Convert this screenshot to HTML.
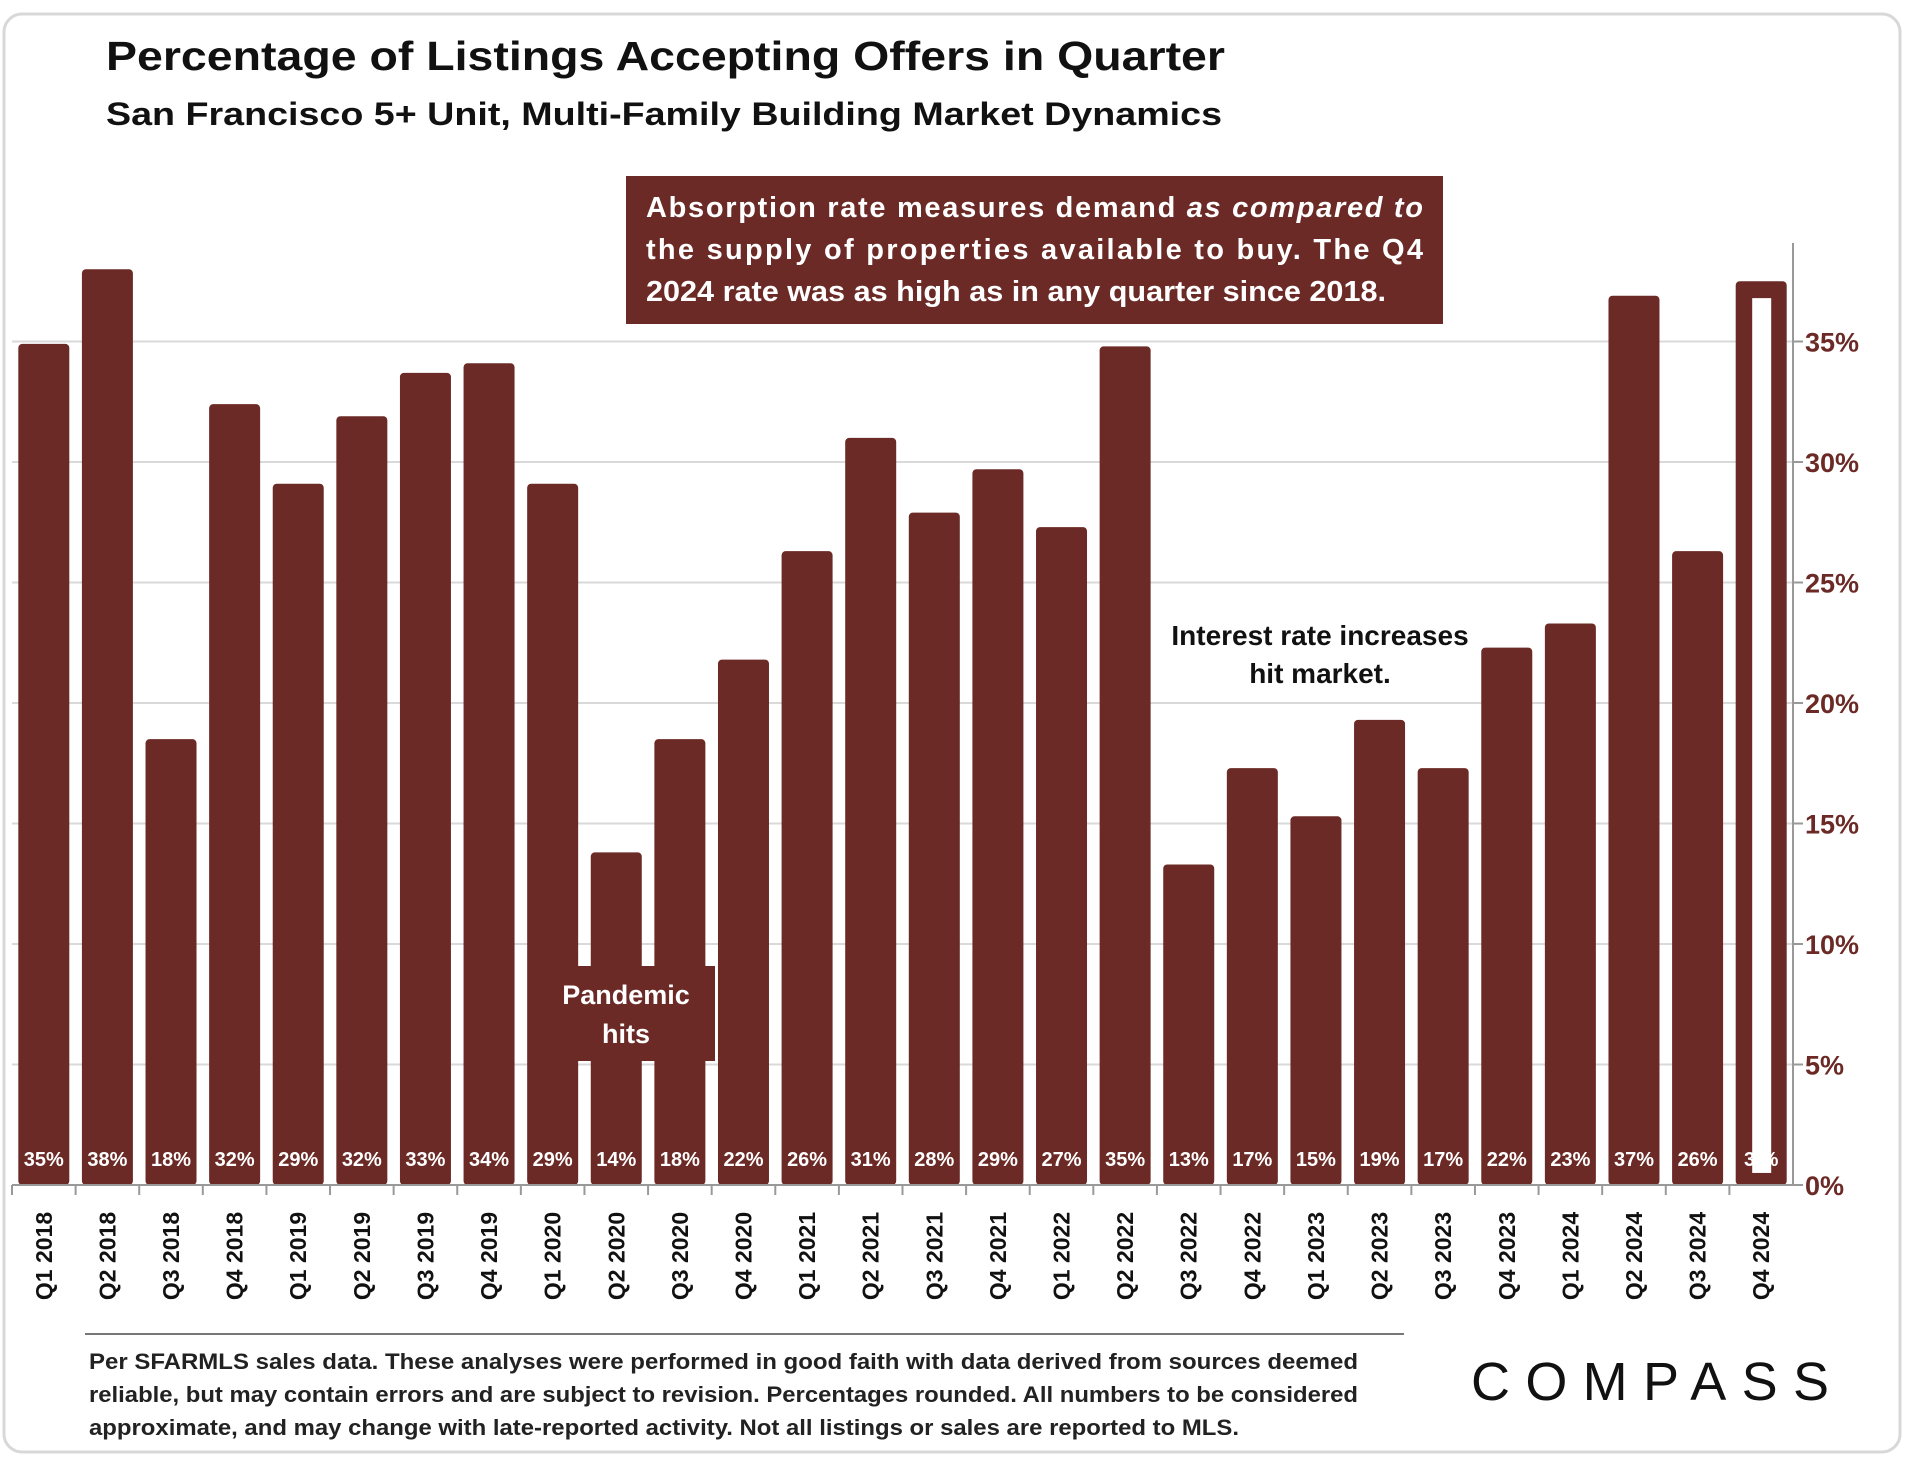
<!DOCTYPE html>
<html><head><meta charset="utf-8"><style>
body{margin:0;background:#fff;}
svg{display:block;font-family:"Liberation Sans",sans-serif;}
</style></head><body>
<svg id="chart" width="1906" height="1458" viewBox="0 0 1906 1458" xmlns="http://www.w3.org/2000/svg">
<rect x="4" y="14" width="1896" height="1438" rx="18" fill="#fff" stroke="#d8d8d8" stroke-width="3"/>
<text x="106" y="70" font-size="41" font-weight="bold" fill="#111" textLength="1119" lengthAdjust="spacingAndGlyphs">Percentage of Listings Accepting Offers in Quarter</text>
<text x="106" y="125" font-size="32" font-weight="bold" fill="#111" textLength="1116" lengthAdjust="spacingAndGlyphs">San Francisco 5+ Unit, Multi-Family Building Market Dynamics</text>
<g id="grid"></g>
<g id="bars"></g>
<g id="axes"></g>
<rect x="626" y="176" width="817" height="148" fill="#6b2a26"/>
<g font-size="29" font-weight="bold" fill="#fff">
<text x="646" y="217" textLength="777" lengthAdjust="spacing">Absorption rate measures demand <tspan font-style="italic">as compared to</tspan></text>
<text x="646" y="259" textLength="777" lengthAdjust="spacing">the supply of properties available to buy. The Q4</text>
<text x="646" y="301" textLength="740" lengthAdjust="spacingAndGlyphs">2024 rate was as high as in any quarter since 2018.</text>
</g>
<g font-size="28" font-weight="bold" fill="#111" text-anchor="middle">
<text x="1320" y="645">Interest rate increases</text>
<text x="1320" y="683">hit market.</text>
</g>
<rect x="545" y="966" width="170" height="95" fill="#6b2a26"/>
<g font-size="27" font-weight="bold" fill="#fff" text-anchor="middle">
<text x="626" y="1004">Pandemic</text>
<text x="626" y="1043">hits</text>
</g>
<line x1="85" y1="1334" x2="1404" y2="1334" stroke="#777" stroke-width="2"/>
<g font-size="22" font-weight="bold" fill="#222">
<text x="89" y="1369" textLength="1269" lengthAdjust="spacingAndGlyphs">Per SFARMLS sales data. These analyses were performed in good faith with data derived from sources deemed</text>
<text x="89" y="1402" textLength="1269" lengthAdjust="spacingAndGlyphs">reliable, but may contain errors and are subject to revision. Percentages rounded. All numbers to be considered</text>
<text x="89" y="1435" textLength="1150" lengthAdjust="spacingAndGlyphs">approximate, and may change with late-reported activity. Not all listings or sales are reported to MLS.</text>
</g>
<text x="1471" y="1400" font-size="54" fill="#111" textLength="358" lengthAdjust="spacing">COMPASS</text>
</svg>
<script>
const categories = ["Q1 2018","Q2 2018","Q3 2018","Q4 2018","Q1 2019","Q2 2019","Q3 2019","Q4 2019","Q1 2020","Q2 2020","Q3 2020","Q4 2020","Q1 2021","Q2 2021","Q3 2021","Q4 2021","Q1 2022","Q2 2022","Q3 2022","Q4 2022","Q1 2023","Q2 2023","Q3 2023","Q4 2023","Q1 2024","Q2 2024","Q3 2024","Q4 2024"];
const values = [34.9,38.0,18.5,32.4,29.1,31.9,33.7,34.1,29.1,13.8,18.5,21.8,26.3,31.0,27.9,29.7,27.3,34.8,13.3,17.3,15.3,19.3,17.3,22.3,23.3,36.9,26.3,37.5];
const valueLabels = ["35%","38%","18%","32%","29%","32%","33%","34%","29%","14%","18%","22%","26%","31%","28%","29%","27%","35%","13%","17%","15%","19%","17%","22%","23%","37%","26%","3 %"];
const yTicks = [0,5,10,15,20,25,30,35];
const yTickLabels = ["0%","5%","10%","15%","20%","25%","30%","35%"];

const NS="http://www.w3.org/2000/svg";
const plotL=12, plotR=1793, y0=1185, pxPer=24.1;
const step=(plotR-plotL)/categories.length;
const bw=51;
function y(v){return y0-v*pxPer;}
function xc(i){return plotL+step*(i+0.5);}
function mk(tag,attrs,parent){const e=document.createElementNS(NS,tag);for(const k in attrs)e.setAttribute(k,attrs[k]);parent.appendChild(e);return e;}
const grid=document.getElementById('grid'),bars=document.getElementById('bars'),axes=document.getElementById('axes');
yTicks.forEach((t,i)=>{
  if(t>0){const g=mk('line',{x1:plotL,x2:plotR,y1:y(t),y2:y(t),stroke:'#d9d9d9','stroke-width':2},grid);
  
  }
  const tk=mk('line',{x1:plotR,x2:plotR+10,y1:y(t),y2:y(t),stroke:'#999','stroke-width':2},axes);
  
  
  const lb=mk('text',{x:plotR+12,y:y(t)+10,'font-size':27,'font-weight':'bold',fill:'#6b2a26'},axes);
  
  
  lb.textContent=yTickLabels[i];
});
const ya=mk('line',{x1:plotR,x2:plotR,y1:243,y2:y0,stroke:'#999','stroke-width':2},axes);


const xa=mk('line',{x1:plotL,x2:plotR,y1:y0,y2:y0,stroke:'#999','stroke-width':2},axes);


categories.forEach((c,i)=>{
  const cx=xc(i),v=values[i];
  const b=mk('rect',{x:cx-bw/2,y:y(v),width:bw,height:v*pxPer,rx:4,fill:'#6b2a26'},bars);
  
  
  if(i===categories.length-1){
    const w=mk('rect',{x:cx-9,y:y(v-0.7),width:19,height:(v-1.2)*pxPer,fill:'#fff'},bars);
    
    
  }
  const l=mk('text',{x:cx,y:1166,'font-size':20,'font-weight':'bold',fill:'#fff','text-anchor':'middle'},bars);
  
  
  l.textContent=valueLabels[i];
  const tk=mk('line',{x1:plotL+step*i,x2:plotL+step*i,y1:y0,y2:y0+10,stroke:'#999','stroke-width':2},axes);
  
  
  const xl=mk('text',{x:0,y:0,'font-size':23,'font-weight':'bold',fill:'#111','text-anchor':'middle',transform:`translate(${cx+8},1256) rotate(-90)`},axes);
  
  
  xl.textContent=c;
});
</script>
</body></html>
